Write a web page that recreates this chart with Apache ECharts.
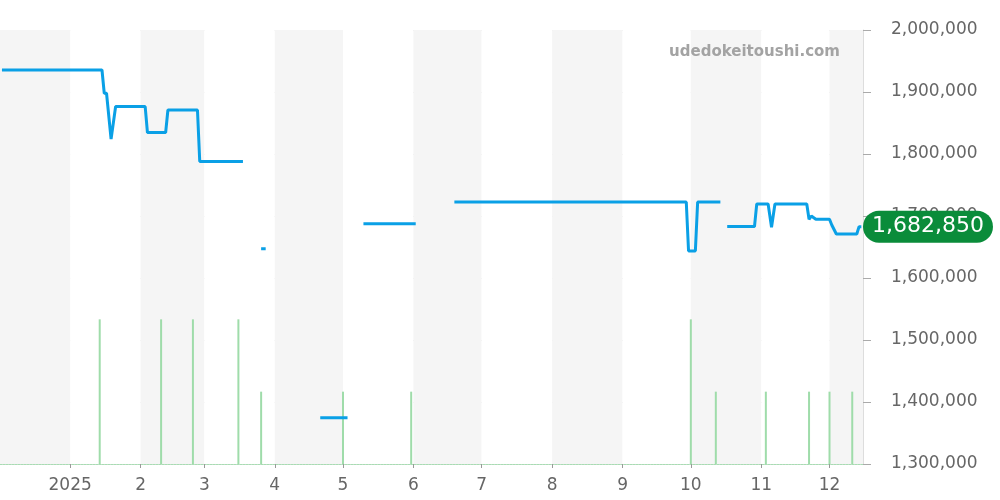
<!DOCTYPE html>
<html>
<head>
<meta charset="utf-8">
<script src="https://cdn.jsdelivr.net/npm/echarts@6/dist/echarts.min.js"></script>
<style>
  html, body { margin: 0; padding: 0; background: #fff; }
  #chart { width: 1000px; height: 500px; }
</style>
</head>
<body>
<div id="chart"></div>
<script>
// price line (null = no data, breaks the line)
const priceDates = [
  '2024-12-02', '2025-01-15', '2025-01-16', '2025-01-17', '2025-01-19', '2025-01-21',
  '2025-02-03', '2025-02-04', '2025-02-12', '2025-02-13', '2025-02-26', '2025-02-27',
  '2025-03-18', '2025-03-22',
  '2025-03-26', '2025-03-28', '2025-04-10',
  '2025-04-21', '2025-05-03', '2025-05-06',
  '2025-05-10', '2025-06-02', '2025-06-10',
  '2025-06-19', '2025-09-29', '2025-09-30', '2025-10-03', '2025-10-04', '2025-10-14', '2025-10-15',
  '2025-10-17', '2025-10-29', '2025-10-30', '2025-11-04', '2025-11-05T12:00', '2025-11-07',
  '2025-11-21', '2025-11-22', '2025-11-23', '2025-11-25', '2025-12-01', '2025-12-02',
  '2025-12-04', '2025-12-13', '2025-12-14', '2025-12-15'
]
const priceValues = [
  1935500, 1935500, 1898000, 1898000, 1824000, 1876500,
  1876500, 1834500, 1834500, 1871000, 1871000, 1788000,
  1788000, null,
  1647000, 1647000, null,
  1374700, 1374700, null,
  1687600, 1687600, null,
  1722600, 1722600, 1643500, 1643500, 1722600, 1722600, null,
  1683000, 1683000, 1719400, 1719400, 1681800, 1719400,
  1719400, 1694700, 1700000, 1694700, 1694700, 1685500,
  1671000, 1671000, 1682850, 1682850
]

// sales count bars
const volumeDates = [
  '2025-01-14', '2025-02-10', '2025-02-24', '2025-03-16', '2025-03-26', '2025-05-01',
  '2025-05-31', '2025-10-01', '2025-10-12', '2025-11-03', '2025-11-22', '2025-12-01', '2025-12-11'
]
const volumeValues = [2, 2, 2, 2, 1, 1, 1, 2, 1, 1, 1, 1, 1]

const latestPrice = 1682850
const yMin = 1300000
const yMax = 2000000
const yStep = 100000

function fmt(v) {
  return String(v).replace(/\B(?=(\d{3})+(?!\d))/g, ',')
}

var chart = echarts.init(document.getElementById('chart'))
var option = {
  animation: false,
  textStyle: { fontFamily: 'DejaVu Sans' },
  grid: { left: 0, right: 137, top: 30, bottom: 36 },
  graphic: [
    {
      type: 'text',
      right: 160,
      top: 45,
      z: 100,
      style: {
        text: 'udedokeitoushi.com',
        fontSize: 15,
        fontWeight: 'bold',
        fontFamily: 'DejaVu Sans',
        fill: '#a3a3a3'
      }
    }
  ],
  xAxis: {
    type: 'time',
    min: '2024-12-01T14:00',
    max: '2025-12-15T07:00',
    splitNumber: 12,
    axisLine: { onZero: false, lineStyle: { color: '#a8dcb3', type: [2, 1] } },
    axisTick: { length: 4, lineStyle: { color: '#999' } },
    axisLabel: {
      color: '#666',
      fontSize: 17,
      margin: 13,
      formatter: function (val) {
        var d = new Date(val)
        if (d.getDate() !== 1 || d.getHours() !== 0) return ''
        return d.getMonth() === 0 ? String(d.getFullYear()) : String(d.getMonth() + 1)
      }
    },
    splitLine: { show: false },
    splitArea: { show: true, areaStyle: { color: ['#f5f5f5', '#ffffff'] } }
  },
  yAxis: [
    {
      type: 'value',
      position: 'right',
      min: yMin,
      max: yMax,
      interval: yStep,
      axisLine: { show: true, lineStyle: { color: '#dddddd' } },
      axisTick: { show: true, length: 8, lineStyle: { color: '#aaaaaa' } },
      axisLabel: { color: '#666', fontSize: 17, margin: 28, padding: [4, 0, 0, 0], formatter: fmt },
      splitLine: { lineStyle: { color: '#e2e2e2' } }
    },
    {
      type: 'value',
      min: 0,
      max: 6,
      show: false,
      splitLine: { show: false }
    }
  ],
  series: [
    {
      type: 'bar',
      yAxisIndex: 1,
      barWidth: 2,
      itemStyle: { color: '#9fdcaa' },
      data: volumeDates.map(function (d, i) { return [d, volumeValues[i]] })
    },
    {
      type: 'line',
      showSymbol: false,
      connectNulls: false,
      clip: false,
      z: 5,
      lineStyle: { color: '#0aa0e6', width: 3 },
      itemStyle: { color: '#0aa0e6' },
      data: priceDates.map(function (d, i) { return [d, priceValues[i]] }),
      markLine: {
        silent: true,
        symbol: 'none',
        lineStyle: { color: 'rgba(0,0,0,0)', width: 1, type: 'solid' },
        label: {
          show: true,
          position: 'end',
          distance: 0,
          formatter: function (p) { return fmt(p.value) },
          color: '#fff',
          fontSize: 22,
          lineHeight: 24,
          backgroundColor: '#0a8c3a',
          borderRadius: 16,
          padding: [4, 9, 4, 9]
        },
        emphasis: { disabled: true },
        data: [{ yAxis: latestPrice }]
      }
    }
  ]
}
chart.setOption(option)
</script>
</body>
</html>
